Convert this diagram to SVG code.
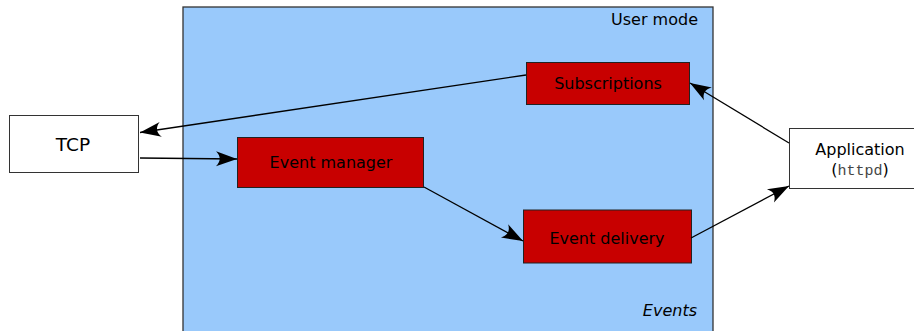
<svg xmlns="http://www.w3.org/2000/svg" width="914" height="331" viewBox="0 0 914 331">
  <defs>
    <marker id="arrow" markerUnits="userSpaceOnUse" markerWidth="24" markerHeight="16" viewBox="-22 -8 24 16" refX="0" refY="0" orient="auto" overflow="visible">
      <path d="M0,0 L-21,-7.5 C-16,-2.5 -16,2.5 -21,7.5 Z" fill="#000"/>
    </marker>
    <style>
      .lbl { font-family: "DejaVu Sans", "Liberation Sans", sans-serif; fill: #000; font-size: 16px; }
      .big { font-size: 18.5px; }
      .ext { fill: #fff; stroke: #333; stroke-width: 1; }
      .comp { fill: #c80000; stroke: #222; stroke-width: 1; }
      .edge { fill: none; stroke: #000; stroke-width: 1.3; marker-end: url(#arrow); }
    </style>
  </defs>
  <rect width="914" height="331" fill="#fff"/>

  <!-- user mode region -->
  <g id="user-mode">
    <rect x="183" y="7" width="530" height="330" fill="#99c9fb" stroke="#333" stroke-width="1.3"/>
    <text class="lbl" x="698" y="25" text-anchor="end">User mode</text>
    <text class="lbl" x="697" y="316" font-style="italic" text-anchor="end">Events</text>
  </g>

  <g id="tcp">
    <rect class="ext" x="9.5" y="115.5" width="129" height="57"/>
    <text class="lbl big" x="73" y="151" text-anchor="middle">TCP</text>
  </g>

  <g id="application">
    <rect class="ext" x="789.5" y="128.5" width="130" height="60"/>
    <text class="lbl" x="860" y="155" text-anchor="middle">Application</text>
    <text class="lbl" x="860" y="175" text-anchor="middle">(<tspan style="font-family:'Liberation Mono','DejaVu Sans Mono',monospace;font-size:15px;fill:#444">httpd</tspan>)</text>
  </g>

  <g id="subscriptions">
    <rect class="comp" x="526.5" y="62.5" width="163" height="42"/>
    <text class="lbl" x="608" y="89" text-anchor="middle">Subscriptions</text>
  </g>

  <g id="event-manager">
    <rect class="comp" x="237.5" y="137.5" width="186" height="50"/>
    <text class="lbl" x="331" y="168" text-anchor="middle">Event manager</text>
  </g>

  <g id="event-delivery">
    <rect class="comp" x="523.5" y="210" width="168" height="53"/>
    <text class="lbl" x="607" y="244" text-anchor="middle">Event delivery</text>
  </g>

  <g id="connectors">
    <path class="edge" d="M526,75 L140,132.5"/>
    <path class="edge" d="M140,158 L237,159"/>
    <path class="edge" d="M424,187 L523,241"/>
    <path class="edge" d="M691,238 L789,186"/>
    <path class="edge" d="M789,143 L690,83"/>
  </g>
</svg>
